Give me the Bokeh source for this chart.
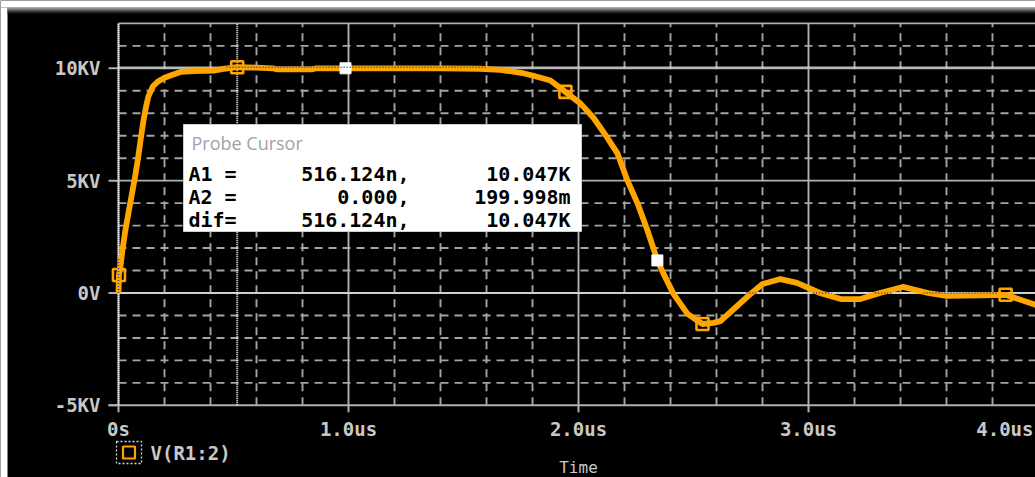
import numpy as np
from bokeh.plotting import figure
from bokeh.models import Range1d
from bokeh.embed import file_html
from bokeh.resources import INLINE
from bokeh.core.properties import value

# ---- trace V(R1:2): time in microseconds, voltage in kV ----
time_us = [0.000, 0.002, 0.010, 0.017, 0.030, 0.044, 0.060, 0.074, 0.085, 0.096,
           0.109, 0.120, 0.130, 0.150, 0.170, 0.200, 0.226, 0.270, 0.330, 0.413,
           0.457, 0.516124, 0.600, 0.670, 0.690, 0.840, 0.860, 1.000, 1.200, 1.400,
           1.570, 1.661, 1.750, 1.800, 1.878, 1.943, 2.009, 2.065, 2.126, 2.170,
           2.213, 2.257, 2.300, 2.343, 2.370, 2.413, 2.474, 2.539, 2.587, 2.617,
           2.690, 2.748, 2.800, 2.878, 2.950, 3.050, 3.140, 3.226, 3.310, 3.410,
           3.520, 3.600, 3.750, 3.857, 3.980, 4.050]
volts_kv = [0.0, 0.8, 1.3, 1.9, 2.8, 3.6, 4.5, 5.3, 6.0, 6.8,
            7.7, 8.3, 8.75, 9.2, 9.4, 9.58, 9.68, 9.84, 9.88, 9.90,
            9.97, 10.047, 10.03, 10.0, 9.95, 9.95, 10.0, 10.0, 10.0, 10.0,
            9.98, 9.93, 9.80, 9.68, 9.46, 8.95, 8.43, 7.8, 6.9, 6.2,
            5.0, 3.98, 2.78, 1.45, 0.85, -0.04, -0.93, -1.38, -1.33, -1.25,
            -0.58, -0.04, 0.4, 0.62, 0.45, 0.0, -0.27, -0.27, 0.0, 0.27,
            0.0, -0.13, -0.1, -0.08, -0.5, -0.8]

# trace symbols drawn on the curve
symbol_t = [0.002, 0.516124, 1.943, 2.539, 3.857]
symbol_v = [0.8, 10.047, 8.95, -1.38, -0.08]

# cursor tags (filled)
tag_t = [0.987, 2.343]
tag_v = [10.0, 1.45]

# probe cursors (time in us, voltage in kV)
a1_t, a1_v = 0.516124, 10.047
a2_t, a2_v = 0.0, 0.199998e-3

# axes
x_ticks = [0, 1, 2, 3, 4]
x_tick_labels = ["0s", "1.0us", "2.0us", "3.0us", "4.0us"]
y_ticks = [-5, 0, 5, 10]
y_tick_labels = ["-5KV", "0V", "5KV", "10KV"]
y_min, y_max = -5, 12
trace_name = "V(R1:2)"
x_title = "Time"

# ---- canvas geometry ----
W, H = 1035, 477
X0_PX, PX_PER_US = 118, 230.0
Y0_PX, PX_PER_KV = 292.5, 22.47


def tx(px):
    return (px - X0_PX) / PX_PER_US


def vy(py):
    return (Y0_PX - py) / PX_PER_KV


ORANGE = "#ffa500"
GRID = "#a4a4a4"
MAJOR = "#b0b0b0"
TEXT = "#c8c8c8"
CURSOR = "#f0f0f0"
NAVY = "#1c3c96"
MONO = value("DejaVu Sans Mono")

p = figure(width=W, height=H, output_backend="svg", toolbar_location=None,
           x_range=Range1d(tx(0), tx(W)), y_range=Range1d(vy(H), vy(0)),
           x_axis_location=None, y_axis_location=None, min_border=0,
           background_fill_color="black", border_fill_color="black",
           outline_line_color=None)
p.grid.visible = False

# window frame: white margin and shaded title bar edge
p.quad(left=[tx(0)], right=[tx(W)], top=[vy(0)], bottom=[vy(7)],
       fill_color="white", line_color=None)
p.quad(left=[tx(0)], right=[tx(7)], top=[vy(7)], bottom=[vy(H)],
       fill_color="white", line_color=None)
shades = ["#d8d8d8", "#b4b4b4", "#8c8c8c", "#646464", "#3c3c3c", "#1c1c1c"]
for i, c in enumerate(shades):
    p.quad(left=[tx(7)], right=[tx(W)], top=[vy(7 + i)], bottom=[vy(8 + i)],
           fill_color=c, line_color=None)

x_end = tx(W) + 0.1

# minor grid (dashed)
minor_t = [round(v, 1) for v in np.arange(0.2, 4.0, 0.2) if abs(v - round(v)) > 1e-6]
minor_v = [v for v in range(y_min + 1, y_max) if v % 5 != 0]
p.segment(x0=minor_t, y0=y_min, x1=minor_t, y1=y_max, line_color=GRID,
          line_width=1.9, line_dash="8 6")
p.segment(x0=0, y0=minor_v, x1=x_end, y1=minor_v, line_color=GRID,
          line_width=1.9, line_dash="8 6")

# major grid (solid)
major_t = [t for t in x_ticks if t > 0]
p.segment(x0=major_t, y0=y_min, x1=major_t, y1=y_max, line_color=MAJOR, line_width=1.9)
major_v = [v for v in y_ticks if v > y_min]
p.segment(x0=0, y0=major_v, x1=x_end, y1=major_v, line_color=MAJOR, line_width=1.9)
p.segment(x0=[0], y0=[y_max], x1=[x_end], y1=[y_max], line_color=MAJOR, line_width=1.9)

# axes lines and ticks
tick_t = 10 / PX_PER_US
tick_v = 7 / PX_PER_KV
p.segment(x0=[-tick_t], y0=[y_min], x1=[x_end], y1=[y_min], line_color=MAJOR, line_width=2)
p.segment(x0=[0], y0=[y_min], x1=[0], y1=[y_max], line_color=MAJOR, line_width=1.9)
p.segment(x0=-tick_t, y0=y_ticks, x1=0, y1=y_ticks, line_color=MAJOR, line_width=2)
p.segment(x0=x_ticks, y0=y_min, x1=x_ticks, y1=y_min - tick_v, line_color=MAJOR, line_width=2)

# probe cursor crosshairs
p.segment(x0=[a1_t, a2_t], y0=y_min, x1=[a1_t, a2_t], y1=y_max,
          line_color=CURSOR, line_width=2, line_dash="1 1")
p.segment(x0=0, y0=[a1_v, a2_v], x1=x_end, y1=[a1_v, a2_v],
          line_color=CURSOR, line_width=2, line_dash="1 1")

# trace
p.line(time_us, volts_kv, line_color=ORANGE, line_width=5.8, line_join="round")
p.scatter(symbol_t, symbol_v, marker="square", size=12, fill_color="black",
          fill_alpha=0.0, line_color=ORANGE, line_width=2.6)
p.scatter(tag_t, tag_v, marker="square", size=11, fill_color="white", line_color="white")

# crosshair dots where they cross the trace
p.segment(x0=[0.47], y0=[a1_v], x1=[1.60], y1=[a1_v], line_color=NAVY,
          line_width=1.4, line_dash="1 2")
p.segment(x0=[a2_t], y0=[0.0], x1=[a2_t], y1=[1.6], line_color=NAVY,
          line_width=1.4, line_dash="1 2")
p.segment(x0=[2.73, 3.02, 3.29, 3.50], y0=a2_v, x1=[2.78, 3.10, 3.36, 3.82], y1=a2_v,
          line_color=NAVY, line_width=1.4, line_dash="1 2")

# tick labels
p.text(x=0, y=y_ticks, text=y_tick_labels, x_offset=-18, text_align="right",
       text_baseline="middle", text_font=MONO, text_font_style="bold",
       text_font_size="19px", text_color=TEXT)
p.text(x=x_ticks[:-1], y=y_min, text=x_tick_labels[:-1], y_offset=24,
       text_align="center", text_baseline="middle", text_font=MONO,
       text_font_style="bold", text_font_size="19px", text_color=TEXT)
p.text(x=x_ticks[-1:], y=y_min, text=x_tick_labels[-1:], y_offset=24, x_offset=-5,
       text_align="right", text_baseline="middle", text_font=MONO,
       text_font_style="bold", text_font_size="19px", text_color=TEXT)
p.text(x=[tx(578)], y=[vy(476)], text=[x_title], text_align="center",
       text_baseline="bottom", text_font=MONO, text_font_size="16px", text_color=TEXT)

# legend entry
p.quad(left=[tx(116)], right=[tx(141)], top=[vy(441)], bottom=[vy(463)],
       fill_color=None, line_color="#d8d8d8", line_width=1.3, line_dash="2 2")
p.scatter([tx(128.5)], [vy(452)], marker="square", size=12, fill_alpha=0.0,
          line_color=ORANGE, line_width=2.2)
p.text(x=[tx(150)], y=[vy(452)], text=[trace_name], text_align="left",
       text_baseline="middle", text_font=MONO, text_font_style="bold",
       text_font_size="19px", text_color=TEXT)


# probe cursor readout
def fmt_time(us):
    return "0.000," if us == 0 else f"{us * 1000:.3f}n,"


def fmt_volt(kv):
    return f"{kv:.3f}K" if abs(kv) >= 1 else f"{kv * 1e6:.3f}m"


row_names = ["A1 =", "A2 =", "dif="]
row_times = [fmt_time(a1_t), fmt_time(a2_t), fmt_time(a1_t - a2_t)]
row_volts = [fmt_volt(a1_v), fmt_volt(a2_v), fmt_volt(a1_v - a2_v)]
row_y = [vy(173), vy(196), vy(219.5)]

p.quad(left=[tx(183)], right=[tx(581)], top=[vy(124)], bottom=[vy(231)],
       fill_color="white", line_color="#d0d0d0", line_width=1)
p.text(x=[tx(191)], y=[vy(142)], text=["Probe Cursor"], text_align="left",
       text_baseline="middle", text_font=value("Open Sans"),
       text_font_size="18px", text_color="#a39fad")
p.text(x=tx(188), y=row_y, text=row_names, text_align="left",
       text_baseline="middle", text_font=MONO, text_font_style="bold",
       text_font_size="20px", text_color="black")
p.text(x=tx(409), y=row_y, text=row_times, text_align="right",
       text_baseline="middle", text_font=MONO, text_font_style="bold",
       text_font_size="20px", text_color="black")
p.text(x=tx(570), y=row_y, text=row_volts, text_align="right",
       text_baseline="middle", text_font=MONO, text_font_style="bold",
       text_font_size="20px", text_color="black")

open("out.html", "w").write(file_html(p, INLINE))
